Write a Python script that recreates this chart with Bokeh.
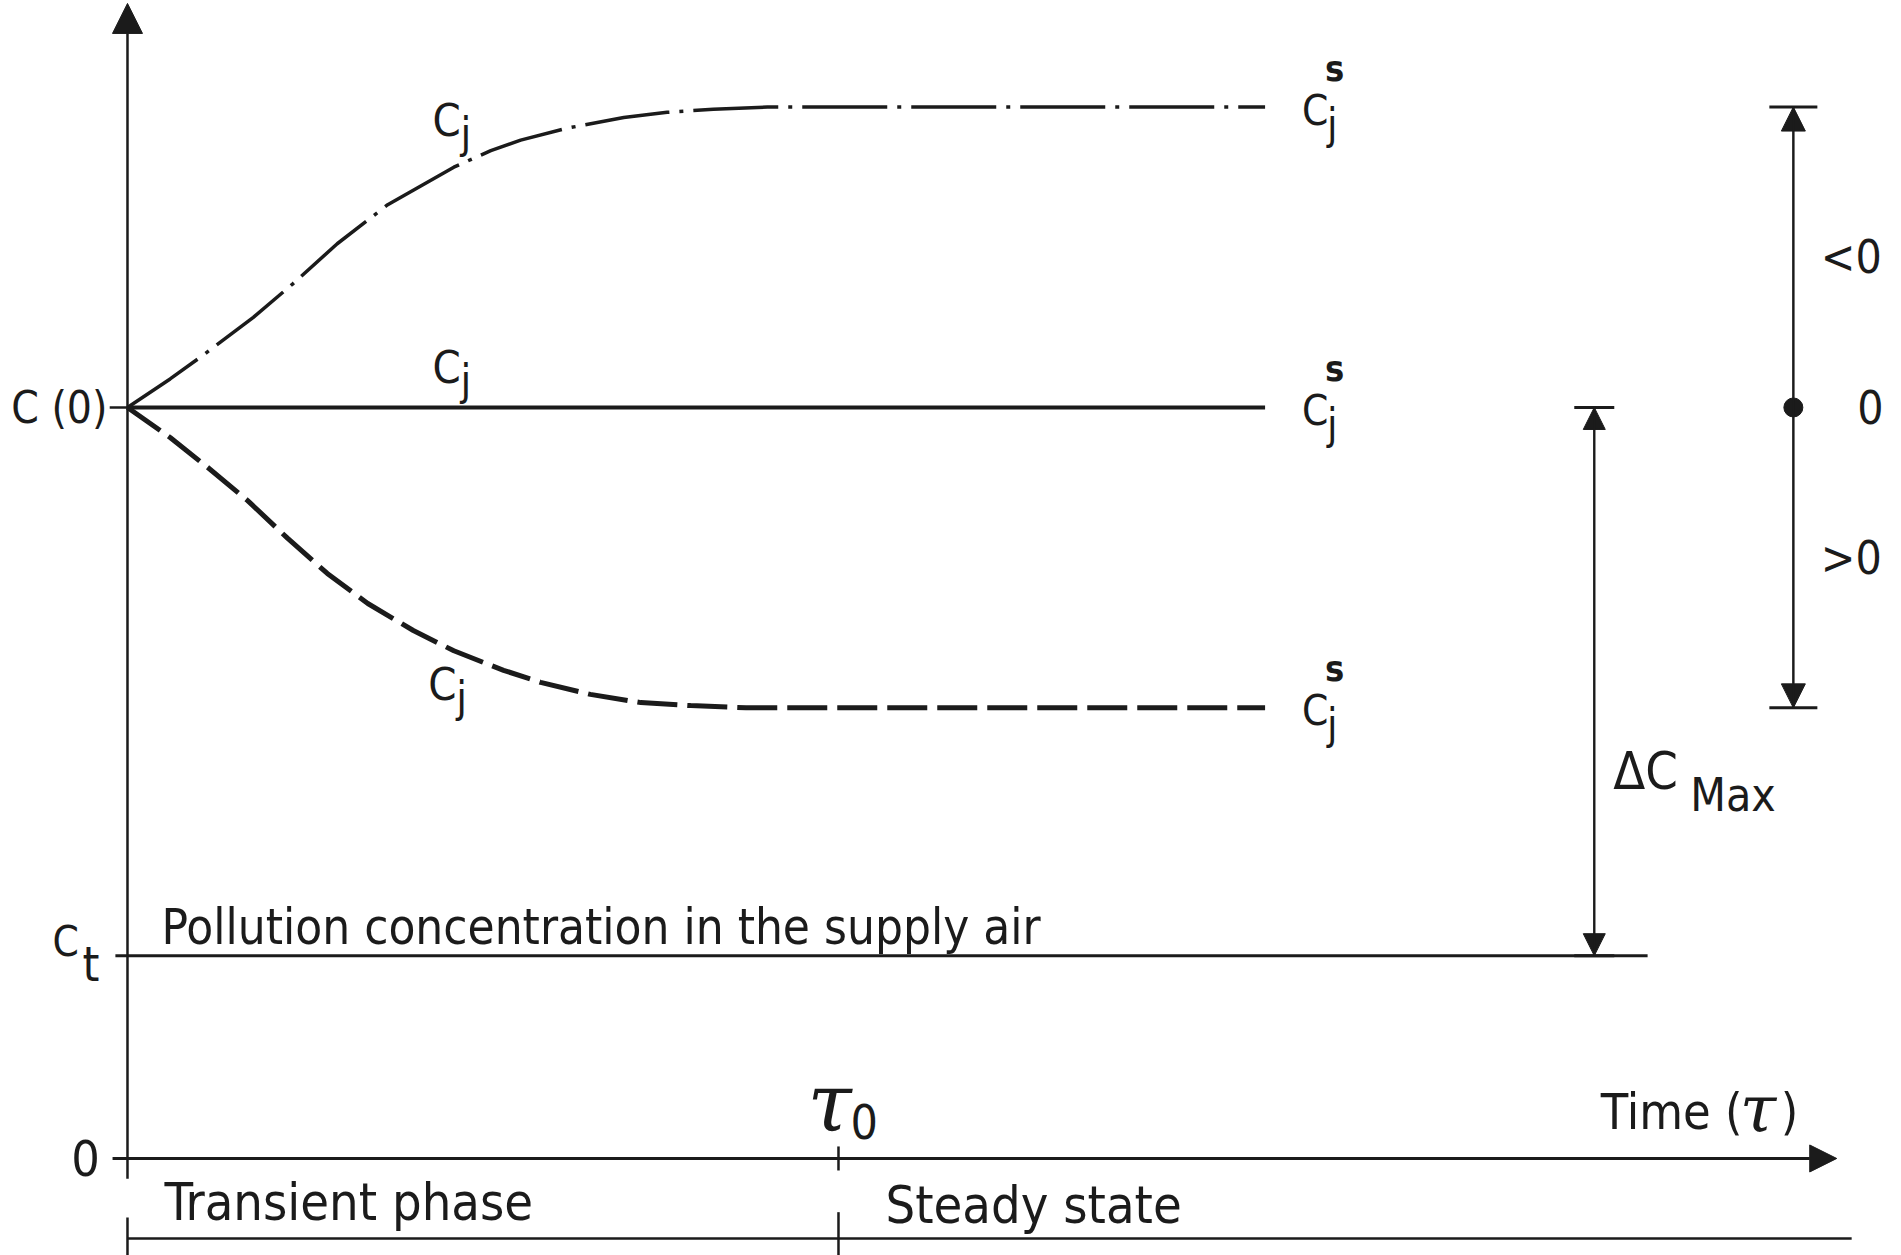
from bokeh.plotting import figure
from bokeh.models import Range1d, Arrow, NormalHead, TeeHead
from bokeh.core.properties import value
from bokeh.embed import file_html
from bokeh.resources import INLINE

# Time is measured in units of tau0, concentration in units of C(0).
TAU0 = 1.0
T_END = 1.6
C0 = 1.0
C_SUPPLY = 0.27
C_HIGH = 1.4
C_LOW = 0.6

# Rising response (dash-dot curve)
rise_time = [0.0, 0.06, 0.107, 0.177, 0.233, 0.295, 0.366, 0.459, 0.511, 0.553,
             0.619, 0.698, 0.759, 0.824, 0.90, 1.6]
rise_conc = [1.0, 1.038, 1.07, 1.12, 1.165, 1.218, 1.27, 1.32, 1.342, 1.356,
             1.372, 1.386, 1.393, 1.397, 1.4, 1.4]

# Falling response (dashed curve)
fall_time = [0.0, 0.06, 0.113, 0.169, 0.225, 0.281, 0.338, 0.402, 0.459, 0.529,
             0.581, 0.651, 0.722, 0.792, 0.87, 1.6]
fall_conc = [1.0, 0.96, 0.92, 0.876, 0.826, 0.779, 0.739, 0.703, 0.676, 0.650,
             0.634, 0.618, 0.607, 0.603, 0.6, 0.6]

# Unchanged response (solid line)
flat_time = [0.0, T_END]
flat_conc = [C0, C0]

# Extents of the drawn axes and guide lines
Y_AXIS_BOTTOM, Y_AXIS_TOP = -0.027, 1.538
X_AXIS_LEFT, X_AXIS_RIGHT = -0.021, 2.404
SUPPLY_LEFT, SUPPLY_RIGHT = -0.017, 2.138
DELTA_X = 2.063
SIGN_X = 2.343
PHASE_Y = -0.1065
PHASE_RIGHT = 2.425

INK = "#1b1b1b"
FONT = value("DejaVu Sans Condensed")
SERIF = value("DejaVu Serif")

p = figure(width=1901, height=1255,
           x_range=Range1d(-0.1786, 2.4951), y_range=Range1d(-0.1292, 1.5419),
           x_axis_location=None, y_axis_location=None,
           output_backend="svg", toolbar_location=None, min_border=0)
p.grid.visible = False
p.outline_line_color = None
p.background_fill_color = "white"
p.border_fill_color = "white"


def label(x, y, txt, size, dx=0, dy=0, align="left", font=FONT, style="normal"):
    """Text centred vertically on (x, y), shifted by (dx, dy) screen pixels."""
    p.text(x=[x], y=[y], text=[txt], x_offset=dx, y_offset=dy,
           text_font=font, text_font_size=f"{size}px", text_font_style=style,
           text_align=align, text_baseline="middle", text_color=INK)


# --- axes -----------------------------------------------------------------
p.add_layout(Arrow(end=NormalHead(size=30, fill_color=INK, line_color=INK, line_width=1),
                   x_start=0, y_start=Y_AXIS_BOTTOM, x_end=0, y_end=Y_AXIS_TOP,
                   line_width=2.5, line_color=INK))
p.add_layout(Arrow(end=NormalHead(size=27, fill_color=INK, line_color=INK, line_width=1),
                   x_start=X_AXIS_LEFT, y_start=0, x_end=X_AXIS_RIGHT, y_end=0,
                   line_width=3, line_color=INK))
# tick marks
p.segment(x0=[-0.025, TAU0], y0=[C0, -0.016], x1=[0, TAU0], y1=[C0, 0.016],
          line_width=2.5, line_color=INK)

# supply air level
p.segment(x0=[SUPPLY_LEFT], y0=[C_SUPPLY], x1=[SUPPLY_RIGHT], y1=[C_SUPPLY],
          line_width=3, line_color=INK)

# --- response curves -------------------------------------------------------
p.line(rise_time, rise_conc, line_width=3.5, line_color=INK, line_dash="85 10 4 10")
p.line(flat_time, flat_conc, line_width=4, line_color=INK)
p.line(fall_time, fall_conc, line_width=5, line_color=INK, line_dash="40 10")

# --- dimension arrows ------------------------------------------------------
for x, y0, y1, head, tee in [(DELTA_X, C0, C_SUPPLY, 22, 40),
                             (SIGN_X, C_HIGH, C_LOW, 24, 48)]:
    p.add_layout(Arrow(start=NormalHead(size=head, fill_color=INK, line_color=INK, line_width=1),
                       end=NormalHead(size=head, fill_color=INK, line_color=INK, line_width=1),
                       x_start=x, y_start=y0, x_end=x, y_end=y1,
                       line_width=2, line_color=INK))
    p.add_layout(Arrow(start=TeeHead(size=tee, line_color=INK, line_width=3),
                       end=TeeHead(size=tee, line_color=INK, line_width=3),
                       x_start=x, y_start=y0, x_end=x, y_end=y1,
                       line_width=2, line_color=INK))
p.scatter([SIGN_X], [C0], size=19, fill_color=INK, line_color=INK)

# --- phase bar -------------------------------------------------------------
p.segment(x0=[0, 0, TAU0], y0=[PHASE_Y, PHASE_Y + 0.028, PHASE_Y + 0.035],
          x1=[PHASE_RIGHT, 0, TAU0], y1=[PHASE_Y, -0.1292, -0.1292],
          line_width=2.5, line_color=INK)

# --- texts -----------------------------------------------------------------
label(0, C0, "C (0)", 44, dx=-20, align="right")
label(0, 0, "0", 50, dx=-42, align="center")
label(0, C_SUPPLY, "C", 42, dx=-75, dy=-14)
label(0, C_SUPPLY, "t", 48, dx=-45, dy=8)
label(0, C_SUPPLY, "Pollution concentration in the supply air", 49, dx=34, dy=-28)

# curve labels
for x, y in [(0.429, 1.382), (0.429, 1.053), (0.423, 0.6305)]:
    label(x, y, "C", 45)
    label(x, y, "j", 43, dx=28, dy=12)

# steady-state labels
for level in [C_HIGH, C0, C_LOW]:
    label(T_END, level, "C", 42, dx=37, dy=3)
    label(T_END, level, "j", 42, dx=62, dy=17)
    label(T_END, level, "s", 36, dx=60, dy=-39, style="bold")

label(DELTA_X, 0.5166, "ΔC", 52, dx=19)
label(DELTA_X, 0.5166, "Max", 46, dx=96, dy=24)

label(SIGN_X, (C0 + C_HIGH) / 2, "<0", 46, dx=58, align="center")
label(SIGN_X, C0, "0", 46, dx=77, align="center")
label(SIGN_X, (C0 + C_LOW) / 2, ">0", 46, dx=58, align="center")

label(TAU0, 0, "τ", 80, dx=-31, dy=-55, font=SERIF, style="italic")
label(TAU0, 0, "0", 48, dx=12, dy=-37)

label(X_AXIS_RIGHT, 0, "Time (", 50, dx=-236, dy=-46)
label(X_AXIS_RIGHT, 0, "τ", 66, dx=-97, dy=-49, font=SERIF, style="italic")
label(X_AXIS_RIGHT, 0, ")", 50, dx=-56, dy=-46)

label(0, PHASE_Y, "Transient phase", 52, dx=37, dy=-36)
label(TAU0, PHASE_Y, "Steady state", 52, dx=47, dy=-33)

open("out.html", "w").write(file_html(p, INLINE))
